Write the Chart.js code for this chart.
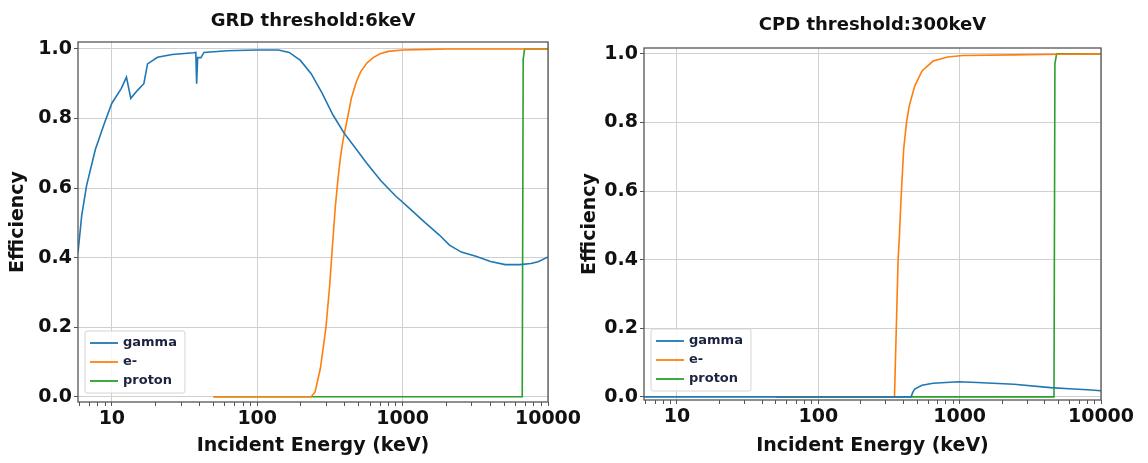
<!DOCTYPE html>
<html lang="en">
<head>
<meta charset="UTF-8" />
<title>Detector efficiency</title>
<script src="https://cdn.jsdelivr.net/npm/chart.js@4.4.1/dist/chart.umd.min.js"></script>
<style>
  body { margin: 0; background: #fff; }
  canvas { position: absolute; top: 0; }
</style>
</head>
<body>
<canvas id="grd" width="600" height="463" style="left:0px"></canvas>
<canvas id="cpd" width="574" height="463" style="left:574px"></canvas>
<script>
// energies in keV, efficiencies
const grdGammaE = [5.85, 6.2, 6.7, 7.7, 8.9, 10, 11.6, 12.6, 13.5, 15, 16.6, 17.6, 20.6, 26, 36.5, 37.8, 38.3, 38.9, 41, 43, 62, 99, 140, 166, 198, 235, 280, 332, 396, 472, 563, 709, 892, 1125, 1415, 1790, 2100, 2535, 3190, 4025, 5080, 6400, 7620, 8560, 10000];
const grdGammaV = [0.415, 0.52, 0.607, 0.711, 0.787, 0.844, 0.886, 0.919, 0.858, 0.881, 0.90, 0.957, 0.976, 0.984, 0.989, 0.99, 0.90, 0.975, 0.975, 0.99, 0.995, 0.997, 0.997, 0.99, 0.967, 0.929, 0.872, 0.81, 0.758, 0.716, 0.673, 0.621, 0.578, 0.54, 0.502, 0.465, 0.436, 0.416, 0.404, 0.389, 0.38, 0.38, 0.383, 0.388, 0.402];
const grdElecE = [50, 235, 250, 272, 297, 315, 330, 345, 360, 374, 390, 408, 445, 480, 515, 570, 631, 700, 795, 1000, 1260, 2000, 10000];
const grdElecV = [0, 0, 0.014, 0.082, 0.2, 0.32, 0.44, 0.55, 0.63, 0.69, 0.74, 0.78, 0.86, 0.905, 0.935, 0.96, 0.976, 0.986, 0.993, 0.997, 0.998, 1.0, 1.0];
const grdProtE = [50, 6650, 6750, 6900, 10000];
const grdProtV = [0, 0, 0.97, 1.0, 1.0];

const cpdGammaE = [5.85, 453, 466, 481, 542, 649, 986, 1330, 2420, 4400, 5940, 8010, 10000];
const cpdGammaV = [0, 0, 0.013, 0.023, 0.034, 0.04, 0.044, 0.042, 0.037, 0.027, 0.024, 0.021, 0.018];
const cpdElecE = [50, 346, 367, 374, 385, 402, 421, 440, 481, 542, 649, 824, 1047, 2420, 5000, 10000];
const cpdElecV = [0, 0, 0.40, 0.46, 0.578, 0.723, 0.80, 0.848, 0.906, 0.95, 0.979, 0.991, 0.995, 0.997, 0.999, 1.0];
const cpdProtE = [50, 4650, 4720, 4850, 10000];
const cpdProtV = [0, 0, 0.97, 1.0, 1.0];

const labels = ['gamma', 'e-', 'proton'];
const colors = ['#1f77b4', '#ff7f0e', '#2ca02c'];
const xMajor = [10, 100, 1000, 10000];
const xTicks = [6, 7, 8, 9, 10, 20, 30, 40, 50, 60, 70, 80, 90, 100, 200, 300, 400, 500, 600, 700, 800, 900,
  1000, 2000, 3000, 4000, 5000, 6000, 7000, 8000, 9000, 10000];
const yTicks = [0, 0.2, 0.4, 0.6, 0.8, 1.0];

const FONT = 'DejaVu Sans';

// axes frame and the in-plot legend (lower left)
const framePlugin = {
  id: 'frame',
  afterDatasetsDraw(chart, args, opts) {
    const ctx = chart.ctx, a = chart.chartArea;
    ctx.save();
    ctx.strokeStyle = '#555';
    ctx.lineWidth = 1.3;
    ctx.strokeRect(a.left, a.top, a.right - a.left, a.bottom - a.top);

    const items = chart.data.datasets;
    ctx.font = 'bold 13px "' + FONT + '"';
    const textW = Math.max(...items.map(d => ctx.measureText(d.label).width));
    const bh = 62, bw = 38 + textW + 8;
    const bx = a.left + opts.dx, by = a.bottom - opts.dy - bh;
    ctx.fillStyle = 'rgba(255,255,255,0.85)';
    ctx.strokeStyle = '#d4d4d4';
    ctx.lineWidth = 1;
    ctx.beginPath();
    ctx.roundRect(bx, by, bw, bh, 2);
    ctx.fill();
    ctx.stroke();
    items.forEach((d, i) => {
      const y = by + 12 + i * 19;
      ctx.strokeStyle = d.borderColor;
      ctx.lineWidth = 1.8;
      ctx.beginPath();
      ctx.moveTo(bx + 5, y);
      ctx.lineTo(bx + 33, y);
      ctx.stroke();
      ctx.fillStyle = '#1c2340';
      ctx.textBaseline = 'middle';
      ctx.fillText(d.label, bx + 38, y);
    });
    ctx.restore();
  }
};

function makeChart(id, title, series, lay) {
  const datasets = series.map((s, i) => ({
    label: labels[i],
    data: s[0].map((x, j) => ({ x: x, y: s[1][j] })),
    borderColor: colors[i],
    borderWidth: 1.6,
    pointRadius: 0,
    fill: false
  }));
  return new Chart(document.getElementById(id), {
    type: 'line',
    data: { datasets: datasets },
    options: {
      responsive: false,
      animation: false,
      devicePixelRatio: 1,
      layout: { padding: { left: 0, right: lay.right, top: 0, bottom: 0 } },
      plugins: {
        legend: { display: false },
        tooltip: { enabled: false },
        title: {
          display: true, text: title, fullSize: false, color: '#111',
          font: { family: FONT, size: 18, weight: 'bold' },
          padding: { top: lay.titleTop, bottom: lay.titleBottom }
        },
        frame: { dx: 7, dy: 9 }
      },
      scales: {
        x: {
          type: 'logarithmic', min: 5.85, max: 10000,
          afterBuildTicks: s => { s.ticks = xTicks.map(v => ({ value: v })); },
          afterFit: s => { s.height = lay.xh; },
          border: { display: false },
          grid: {
            color: c => (c.tick && xMajor.includes(c.tick.value)) ? '#d0d0d0' : 'rgba(0,0,0,0)',
            tickColor: '#555', tickLength: 4
          },
          ticks: {
            autoSkip: false, maxRotation: 0, padding: 2, color: '#111',
            font: { family: FONT, size: 19, weight: 'bold' },
            callback: v => xMajor.includes(v) ? String(v) : ''
          },
          title: {
            display: true, text: 'Incident Energy (keV)', color: '#111',
            font: { family: FONT, size: 19, weight: 'bold' },
            padding: { top: 0, bottom: 6 }
          }
        },
        y: {
          min: lay.ymin, max: lay.ymax,
          afterBuildTicks: s => { s.ticks = yTicks.map(v => ({ value: v })); },
          afterFit: s => { s.width = lay.yw; },
          border: { display: false },
          grid: { color: '#d0d0d0', tickColor: '#555', tickLength: 4 },
          ticks: {
            padding: 2, color: '#111',
            font: { family: FONT, size: 19, weight: 'bold' },
            callback: v => v.toFixed(1)
          },
          title: {
            display: true, text: 'Efficiency', color: '#111',
            font: { family: FONT, size: 19, weight: 'bold' },
            padding: { top: lay.yTitlePad, bottom: 0 }
          }
        }
      }
    },
    plugins: [framePlugin]
  });
}

makeChart('grd', 'GRD threshold:6keV',
  [[grdGammaE, grdGammaV], [grdElecE, grdElecV], [grdProtE, grdProtV]],
  { right: 52, titleTop: 11, titleBottom: 9.4, xh: 61, yw: 78, ymin: -0.015, ymax: 1.02, yTitlePad: 6.5 });

makeChart('cpd', 'CPD threshold:300keV',
  [[cpdGammaE, cpdGammaV], [cpdElecE, cpdElecV], [cpdProtE, cpdProtV]],
  { right: 47, titleTop: 14.5, titleBottom: 11.9, xh: 63, yw: 70, ymin: -0.009, ymax: 1.017, yTitlePad: 4.5 });
</script>
</body>
</html>
